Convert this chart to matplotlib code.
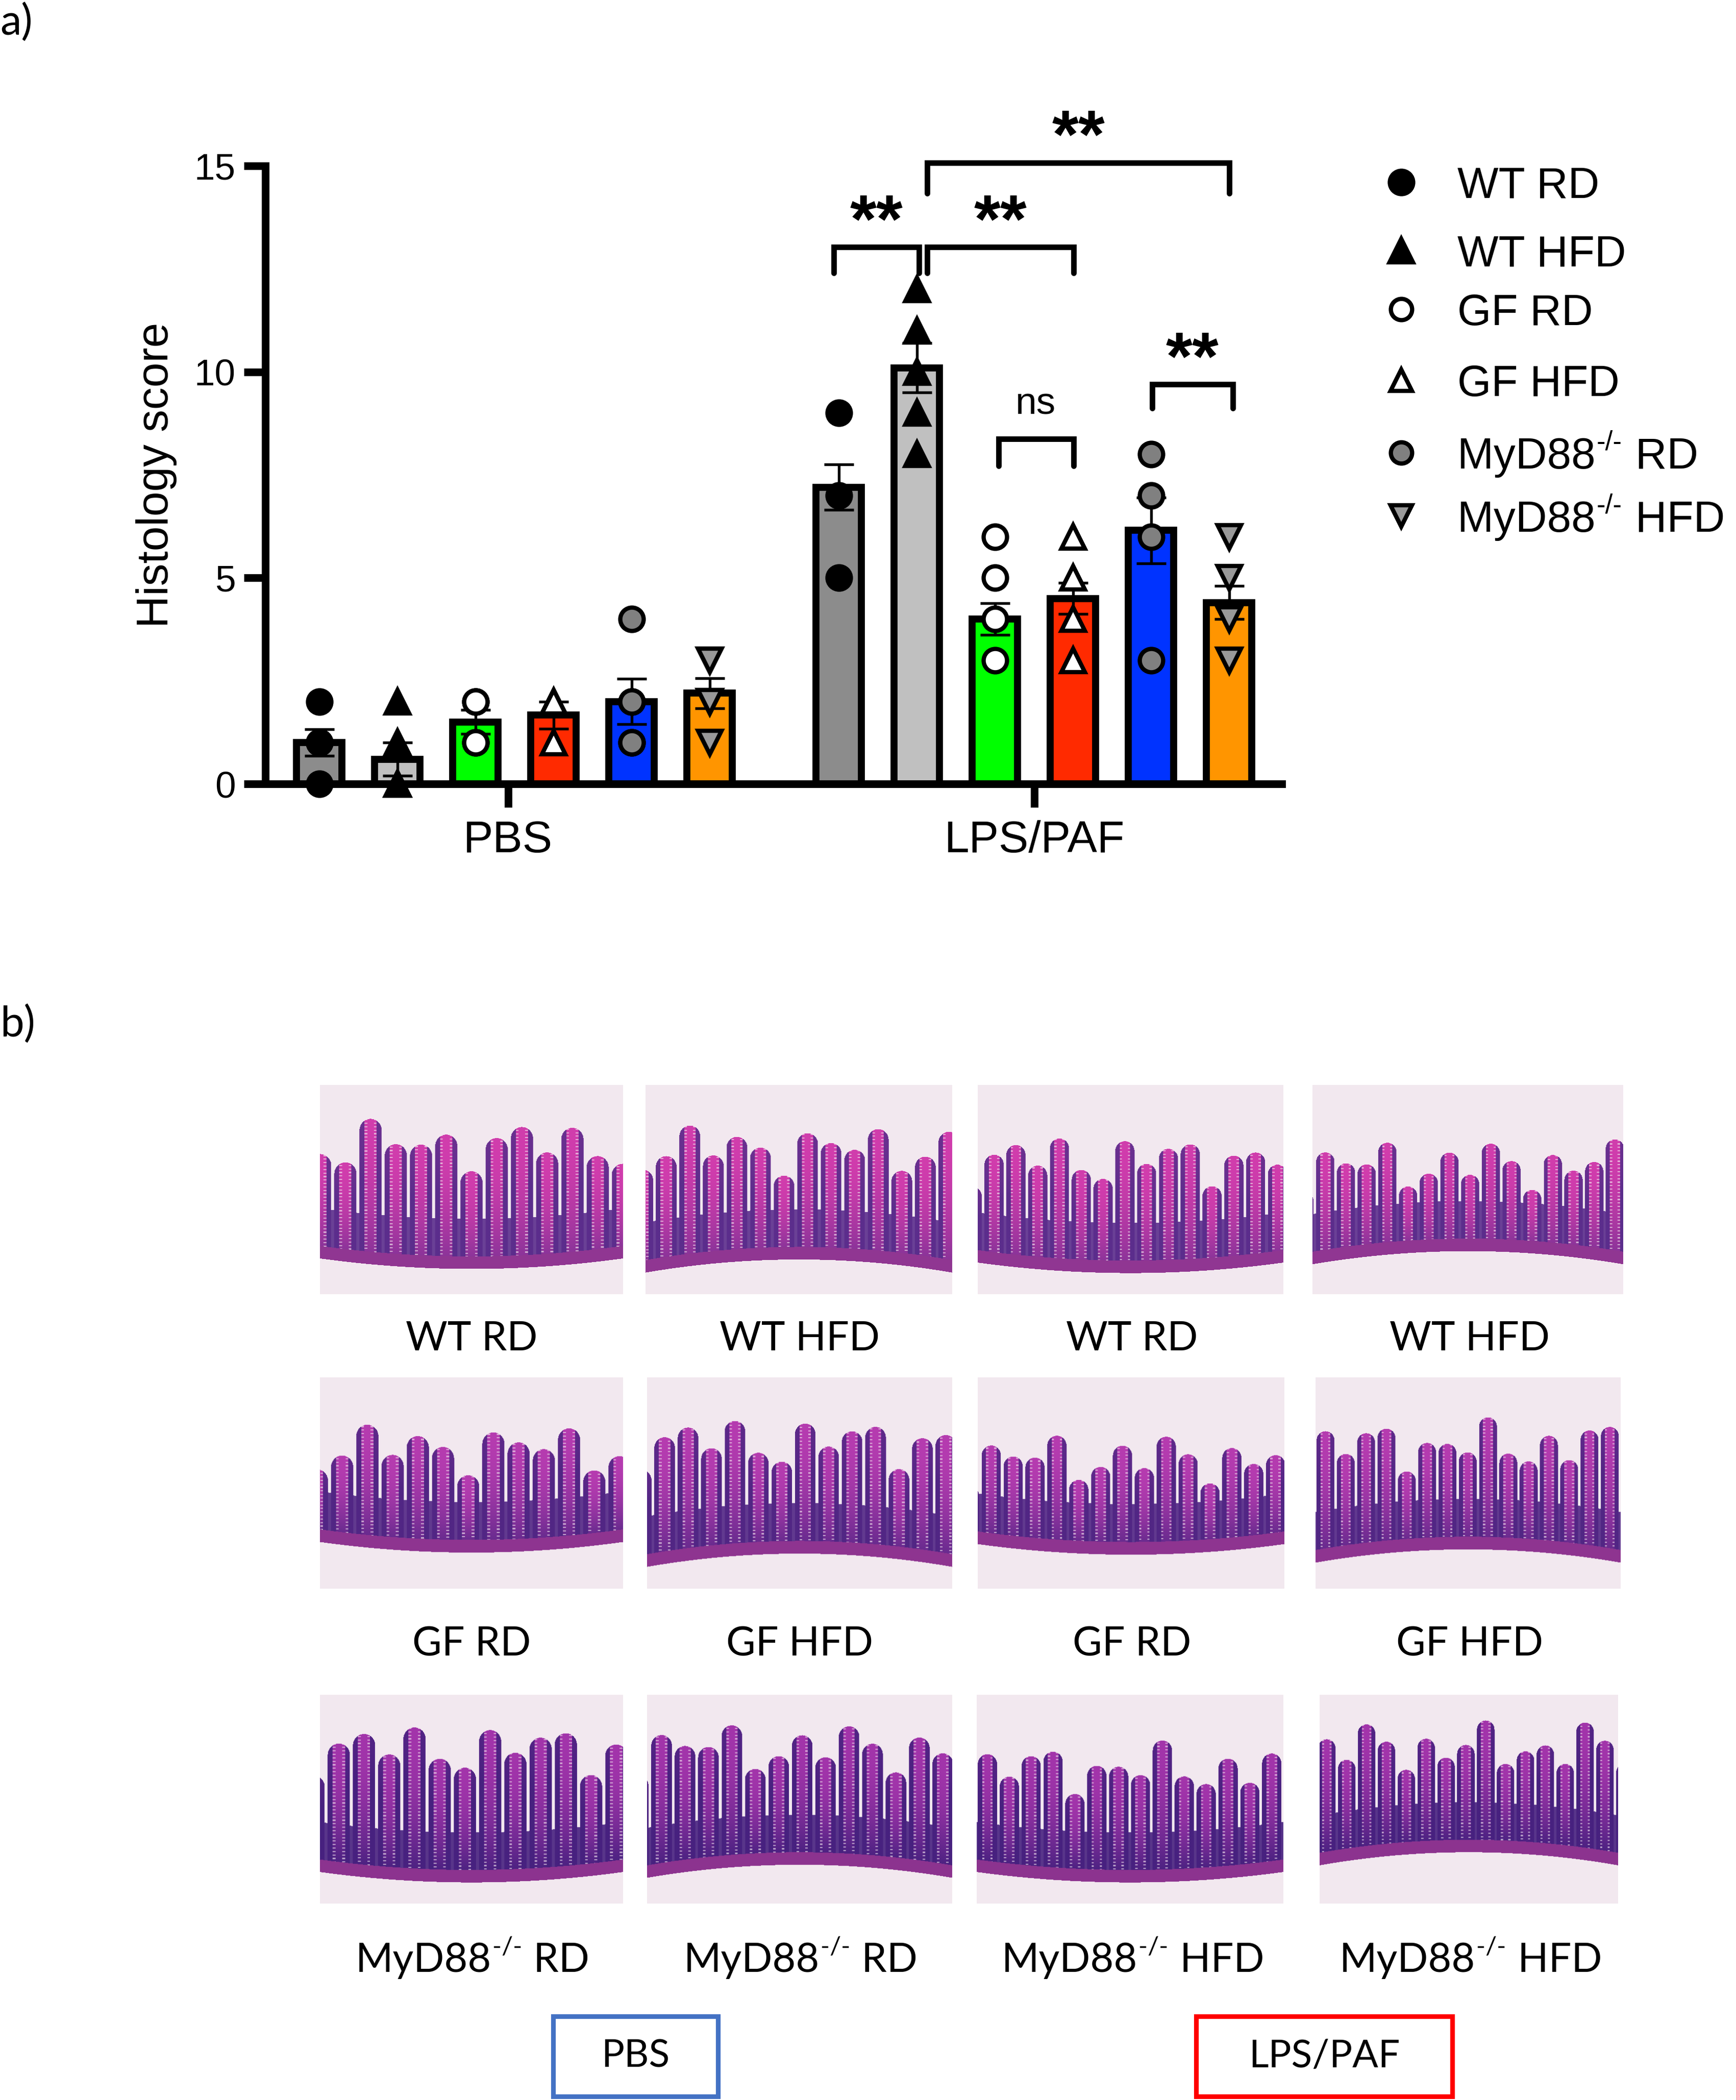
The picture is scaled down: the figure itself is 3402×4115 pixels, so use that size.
import numpy as np
import matplotlib
matplotlib.use("Agg")
import matplotlib.pyplot as plt
from matplotlib.patches import Rectangle

# ---- data ----
groups = ["PBS", "LPS/PAF"]
series = [("WT RD", "", ""), ("WT HFD", "", ""), ("GF RD", "", ""), ("GF HFD", "", ""),
          ("MyD88", "-/-", " RD"), ("MyD88", "-/-", " HFD")]
bar_colors = ["#8c8c8c", "#c0c0c0", "#00ff00", "#ff2a00", "#0033ff", "#ff9500"]

pbs_mean = [1.0, 0.6, 1.5, 1.67, 2.0, 2.2]
pbs_sem = [0.32, 0.4, 0.29, 0.33, 0.55, 0.37]
pbs_points = [[2, 1, 1, 1, 0], [2, 1, 0, 0, 0], [2, 2, 1, 1], [2, 2, 1],
              [4, 2, 2, 1, 1], [3, 3, 2, 2, 1]]

lps_mean = [7.2, 10.1, 4.0, 4.5, 6.15, 4.4]
lps_sem = [0.55, 0.6, 0.38, 0.38, 0.8, 0.4]
lps_points = [[9, 7, 5], [12, 11, 10, 9, 8], [6, 5, 4, 3], [6, 5, 4, 3],
              [8, 7, 6, 3], [6, 5, 4, 3]]

# (x left, x right, bracket height, leg bottom, label)
brackets = [(6.59, 7.68, 13.03, 12.4, "**"), (7.79, 9.66, 13.03, 12.4, "**"),
            (7.79, 11.66, 15.08, 14.33, "**"), (8.70, 9.66, 8.37, 7.72, "ns"),
            (10.67, 11.70, 9.7, 9.12, "**")]

panel_labels = [[("WT RD", "", ""), ("WT HFD", "", ""), ("WT RD", "", ""), ("WT HFD", "", "")],
                [("GF RD", "", ""), ("GF HFD", "", ""), ("GF RD", "", ""), ("GF HFD", "", "")],
                [("MyD88", "-/-", " RD"), ("MyD88", "-/-", " RD"),
                 ("MyD88", "-/-", " HFD"), ("MyD88", "-/-", " HFD")]]

markers = ["o", "^", "o", "^", "o", "v"]
marker_fc = ["black", "black", "white", "white", "#808080", "#999999"]

W, H = 3402, 4115
DPI = 300
PX = DPI / 72.0
plt.rcParams["font.family"] = ["Liberation Sans", "DejaVu Sans"]

fig = plt.figure(figsize=(W / DPI, H / DPI), dpi=DPI)
renderer = fig.canvas.get_renderer()

# overlay axes in pixel coordinates (y down)
ov = fig.add_axes([0, 0, 1, 1])
ov.set_xlim(0, W)
ov.set_ylim(H, 0)
ov.axis("off")


def sup_text(x, yc, parts, size, family, ha="left"):
    """base text + small raised part + tail, centred vertically on yc"""
    base, sup, tail = parts
    yb = yc + 0.36 * size * PX
    t1 = ov.text(0, yb, base, fontsize=size, family=family, va="baseline")
    t2 = ov.text(0, yb - 0.42 * size * PX, sup, fontsize=size * 0.62,
                 family=family, va="baseline")
    t3 = ov.text(0, yb, tail, fontsize=size, family=family, va="baseline")
    ws = [t.get_window_extent(renderer).width if t.get_text() else 0
          for t in (t1, t2, t3)]
    total = sum(ws)
    x0 = x if ha == "left" else x - total / 2
    t1.set_x(x0)
    t2.set_x(x0 + ws[0] + 2)
    t3.set_x(x0 + ws[0] + ws[1] + 4)


# ---- panel a: bar chart ----
ax = fig.add_axes([520 / W, 1 - 1536 / H, (2512 - 520) / W, (1536 - 325) / H])
xpos = np.concatenate([np.arange(6), 6.655 + np.arange(6)])
means = pbs_mean + lps_mean
sems = pbs_sem + lps_sem
points = pbs_points + lps_points

lw_axis = 3.6
for i, x in enumerate(xpos):
    k = i % 6
    ax.bar(x, means[i], 0.58, color=bar_colors[k], edgecolor="black",
           linewidth=3.3, zorder=2)
    ax.errorbar(x, means[i], yerr=sems[i], color="black", capsize=7,
                capthick=1.3, elinewidth=1.3, zorder=3)
    pts = points[i]
    ax.plot([x] * len(pts), pts, linestyle="none", marker=markers[k],
            markersize=11, markerfacecolor=marker_fc[k], markeredgecolor="black",
            markeredgewidth=2.0, zorder=4, clip_on=False)

for xa, xb, yh, yl, lab in brackets:
    ax.plot([xa, xa, xb, xb], [yl, yh, yh, yl], color="black", linewidth=2.6,
            solid_capstyle="round", solid_joinstyle="miter", clip_on=False)
    if lab == "ns":
        ax.text((xa + xb) / 2, yh + 0.85, lab, ha="center", va="center",
                fontsize=18)
    else:
        ax.text((xa + xb) / 2, yh + 0.55, lab, ha="center", va="center",
                fontsize=32, fontweight="bold")

ax.set_xlim(-0.69, 12.33)
ax.set_ylim(0, 15)
ax.set_yticks([0, 5, 10, 15])
ax.set_xticks([2.42, 9.16])
ax.set_xticklabels(groups, fontsize=21)
ax.tick_params(axis="y", labelsize=17.5, width=lw_axis, length=10, pad=4)
ax.tick_params(axis="x", width=lw_axis, length=11, pad=6)
for s in ["top", "right"]:
    ax.spines[s].set_visible(False)
for s in ["left", "bottom"]:
    ax.spines[s].set_linewidth(lw_axis)
ax.set_ylabel("Histology score", fontsize=21, labelpad=8)
ax.patch.set_alpha(0)

# legend
leg_y = [357, 491, 606, 745, 887, 1011]
for k in range(6):
    ov.plot(2746, leg_y[k], linestyle="none", marker=markers[k],
            markersize=10 if k > 1 else 11, markerfacecolor=marker_fc[k],
            markeredgecolor="black", markeredgewidth=2.0)
    sup_text(2856, leg_y[k], series[k], 20.5, "Liberation Sans")

ov.text(0, 45, "a)", fontsize=20, va="center", ha="left", family="Lato")
ov.text(0, 2008, "b)", fontsize=20, va="center", ha="left", family="Lato")


# ---- panel b: stylised histology sections ----
def tissue(w, h, n_villi, phase, top, bottom, tilt, pink, purple, crypt):
    u = np.linspace(0, 1, w)[None, :]
    v = np.linspace(0, 1, h)[:, None]
    bg = np.array([0.95, 0.91, 0.94])
    pink = np.array(pink)
    purple = np.array(purple)
    base = bottom + tilt * ((u - 0.5) ** 2 - 0.1)
    p = n_villi * u + phase
    idx = np.floor(p + 0.5)
    d = np.abs(p - idx) * 2            # 0 at villus centre, 1 in the gap
    dn = np.clip(d / 0.88, 0, 1)
    tip = top + 0.09 * np.sin(idx * 2.3 + phase * 5) + 0.05 * np.cos(idx * 1.1)
    rr = 0.9 / n_villi / 2 * w / h
    cap = tip + rr * (1 - np.sqrt(np.clip(1 - dn ** 2, 0, 1)))
    villus = (v > cap) & (v < base) & (d < 0.88)
    depth = np.clip((v - tip) / (base - tip + 1e-6), 0, 1)
    frac = np.clip(0.15 + 0.75 * (dn > 0.55) + crypt * depth ** 2, 0, 1)
    rgb = pink * (1 - frac[..., None]) + purple * frac[..., None]
    ring = (dn > 0.3) & (dn < 0.55)
    dots = ring & (np.sin(2 * np.pi * 60 * v + idx) > 0.55)
    rgb = np.where(dots[..., None], rgb * 0.35 + bg * 0.65, rgb)
    img = np.ones((h, w, 3)) * bg
    img = np.where(villus[..., None], rgb, img)
    cz = (v > base - 0.18) & (v < base) & ~villus
    img = np.where(cz[..., None], purple * 0.9 + bg * 0.1, img)
    band = (v >= base) & (v < base + 0.06)
    mus = np.array([0.62, 0.22, 0.58])
    img = np.where(band[..., None], mus * 0.8 + purple * 0.2, img)
    return np.clip(img, 0, 1)


panel_x = [[(627, 1221), (1265, 1866), (1916, 2515), (2572, 3181)],
           [(627, 1221), (1268, 1866), (1916, 2517), (2578, 3176)],
           [(627, 1221), (1268, 1866), (1914, 2515), (2586, 3171)]]
panel_y = [(2126, 2536), (2699, 3113), (3321, 3730)]
label_y = [2617, 3216, 3835]
label_x = [924, 1567, 2218, 2880]

row_pink = [(0.90, 0.25, 0.70), (0.78, 0.25, 0.72), (0.70, 0.22, 0.70)]
row_purple = [(0.36, 0.18, 0.55), (0.32, 0.15, 0.52), (0.28, 0.13, 0.50)]
row_top = [[0.28, 0.30, 0.35, 0.38], [0.33, 0.30, 0.38, 0.32], [0.25, 0.25, 0.35, 0.25]]
row_bot = [[0.80, 0.80, 0.82, 0.76], [0.75, 0.80, 0.76, 0.78], [0.82, 0.78, 0.82, 0.72]]

for r in range(3):
    y0, y1 = panel_y[r]
    for c in range(4):
        x0, x1 = panel_x[r][c]
        img = tissue(600, 410, 12 + c, 0.13 * (c + r), row_top[r][c], row_bot[r][c],
                     0.25 if c % 2 else -0.2, row_pink[r], row_purple[r],
                     0.5 + 0.15 * r)
        ov.imshow(img, extent=(x0, x1, y1, y0), aspect="auto",
                  interpolation="bilinear", zorder=1)
        sup_text(label_x[c], label_y[r], panel_labels[r][c], 19, "Lato", ha="center")

ov.set_xlim(0, W)
ov.set_ylim(H, 0)

# treatment boxes
for (x0, x1), lab, colr in [((1084, 1407), "PBS", "#4472c4"),
                            ((2344, 2846), "LPS/PAF", "#ff0000")]:
    ov.add_patch(Rectangle((x0, 3951), x1 - x0, 4108 - 3951, fill=False,
                           edgecolor=colr, linewidth=2.2))
    ov.text((x0 + x1) / 2, 4029, lab, family="Lato", fontsize=18,
            ha="center", va="center")

fig.savefig("out.png", dpi=DPI)
